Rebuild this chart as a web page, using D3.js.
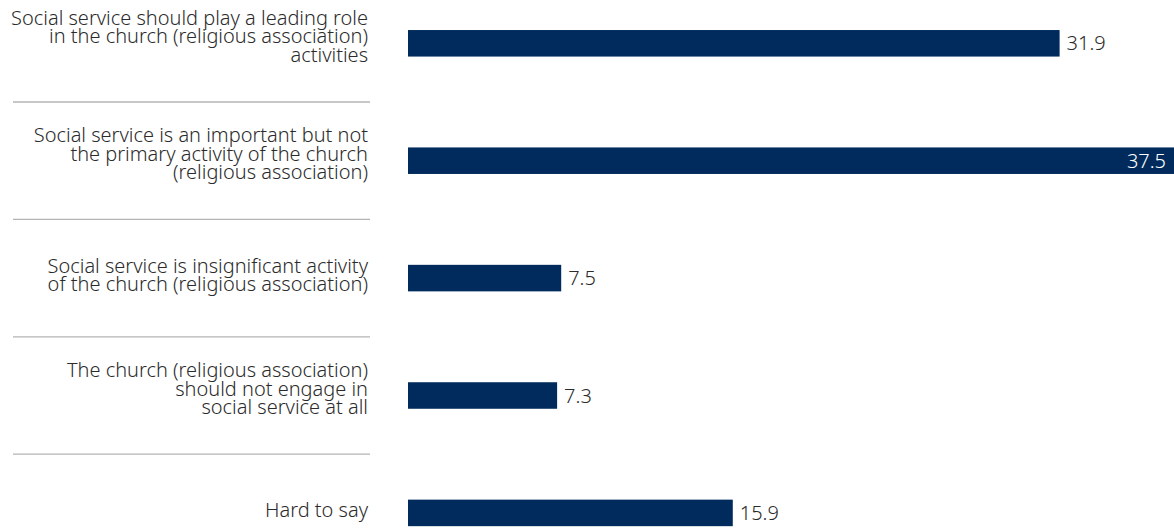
<!DOCTYPE html>
<html><head><meta charset="utf-8">
<script src="https://cdn.jsdelivr.net/npm/d3@7"></script>
<style>
html,body{margin:0;padding:0;background:#fff;}
svg{display:block;}
text{font-family:"Noto Sans","Roboto",sans-serif;}
</style></head>
<body>
<svg id="chart" width="1174" height="528"></svg>
<script>
const categories = [
  ["Social service should play a leading role","in the church (religious association)","activities"],
  ["Social service is an important but not","the primary activity of the church","(religious association)"],
  ["Social service is insignificant activity","of the church (religious association)"],
  ["The church (religious association)","should not engage in","social service at all"],
  ["Hard to say"]
];
const values = [31.9, 37.5, 7.5, 7.3, 15.9];
const valueLabels = ["31.9", "37.5", "7.5", "7.3", "15.9"];

const svg = d3.select("#chart");
const ids = d3.range(values.length);
const y = d3.scaleBand().domain(ids).range([-15.4, 571.6]).paddingInner(0.774).paddingOuter(0.387);
const x = d3.scaleLinear().domain([0, 37.5]).range([408, 1174]);
const step = y.step();
const barColor = "#002b5c";
const fw = 300;

// fit font size so the longest label line spans the same width as in the reference
const probe = svg.append("text").attr("font-size", 20).attr("font-weight", fw).text(categories[0][0]);
const fs = 20 * 357 / probe.node().getComputedTextLength();
probe.remove();
const lh = 18.4;

// separators
svg.append("g").selectAll("line").data(ids.slice(0, -1)).join("line")
  .attr("x1", 13).attr("x2", 370)
  .attr("y1", d => y(d) - y.paddingOuter()*step + step)
  .attr("y2", d => y(d) - y.paddingOuter()*step + step)
  .attr("stroke", "#b4b4b4").attr("stroke-width", 1.3);

// bars
svg.append("g").selectAll("rect").data(ids).join("rect")
  .attr("x", x(0)).attr("y", d => y(d))
  .attr("width", d => x(values[d]) - x(0))
  .attr("height", y.bandwidth())
  .attr("fill", barColor);

// category labels
const lab = svg.append("g").selectAll("text").data(ids).join("text")
  .attr("text-anchor", "end").attr("font-size", fs).attr("fill", "#2b2b2b")
  .attr("font-weight", fw);
lab.each(function(d){
  const lines = categories[d];
  const n = lines.length;
  const c = y(d) + y.bandwidth()/2;
  const first = c + 4 - (n-1)*lh/2 - (n === 3 ? 4 : 0);
  d3.select(this).selectAll("tspan").data(lines).join("tspan")
    .attr("x", 368).attr("y", (t, i) => first + i*lh).text(t => t);
});

// value labels
svg.append("g").selectAll("text").data(ids).join("text")
  .attr("font-size", fs).attr("font-weight", fw)
  .attr("y", d => y(d) + y.bandwidth()/2 + 7)
  .attr("x", d => values[d] === d3.max(values) ? x(values[d]) - 8 : x(values[d]) + 7)
  .attr("text-anchor", d => values[d] === d3.max(values) ? "end" : "start")
  .attr("fill", d => values[d] === d3.max(values) ? "#fff" : "#2b2b2b")
  .text(d => valueLabels[d]);
</script>
</body></html>
